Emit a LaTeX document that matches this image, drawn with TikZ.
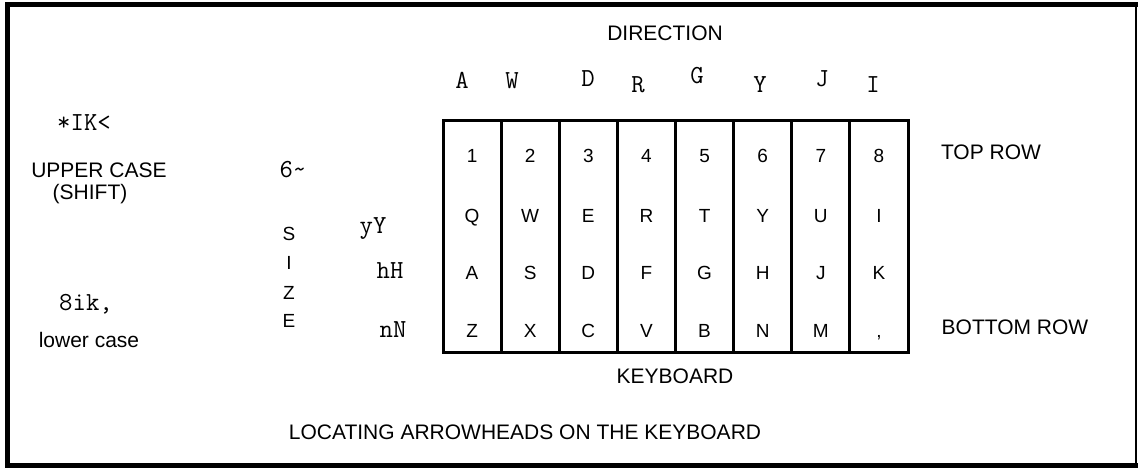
\documentclass[tikz,border=0pt]{standalone}
\usepackage{fontspec}
\setmainfont{Liberation Sans}
\begin{document}
\begin{tikzpicture}[x=1pt,y=-1pt,
  lbl/.style={anchor=base,inner sep=0pt,font=\fontsize{21}{24}\selectfont},
  keytxt/.style={anchor=base,inner sep=0pt,font=\fontsize{19}{22}\selectfont},
  mono/.style={anchor=base,inner sep=0pt,font=\fontsize{26}{28}\selectfont\ttfamily},
  colbox/.style={draw,line width=3pt,minimum width=58.125pt,minimum height=231pt,inner sep=0pt,outer sep=0pt},
  frameline/.style={line width=5pt,line cap=rect}]
\useasboundingbox (0,0) rectangle (1138,468);
% outer frame (right side thinner, as in the reference)
\coordinate (fTL) at (7.5,4.5);
\coordinate (fTR) at (1136,4.5);
\coordinate (fBR) at (1136,465.5);
\coordinate (fBL) at (7.5,465.5);
\draw[frameline] (fTR) -- (fTL) -- (fBL) -- (fBR);
\draw[line width=2.2pt] (fTR) -- (fBR);

% keyboard columns
\foreach \i/\a/\b/\c/\d in {1/1/Q/A/Z,2/2/W/S/X,3/3/E/D/C,4/4/R/F/V,5/5/T/G/B,6/6/Y/H/N,7/7/U/J/M,8/8/I/K/{,}}{
  \node[colbox] (col\i) at ({443+(\i-0.5)*58.125},236.5) {};
  \node[keytxt] (ka\i) at ({443+(\i-0.5)*58.125},163) {\a};
  \node[keytxt] (kb\i) at ({443+(\i-0.5)*58.125},222) {\b};
  \node[keytxt] (kc\i) at ({443+(\i-0.5)*58.125},279) {\c};
  \node[keytxt] (kd\i) at ({443+(\i-0.5)*58.125},337) {\d};
}

% direction letters
\node[mono] (dA) at (462,89) {A};
\node[mono] (dW) at (512,89) {W};
\node[mono] (dD) at (588,87) {D};
\node[mono] (dR) at (638,93) {R};
\node[mono] (dG) at (697,84) {G};
\node[mono] (dY) at (760,93) {Y};
\node[mono] (dJ) at (822,87) {J};
\node[mono] (dI) at (873,93) {I};

% labels
\node[lbl] (direction) at (665,40.5) {DIRECTION};
\node[lbl] (toprow) at (991,159.5) {TOP ROW};
\node[lbl] (bottomrow) at (1015,334.5) {BOTTOM ROW};
\node[lbl] (keyboard) at (675,383.5) {KEYBOARD};
\node[lbl] (title) at (525,439.5) {LOCATING ARROWHEADS ON THE KEYBOARD};

\node[mono] (upsym) at (84,131) {*IK<};
\node[lbl] (upper) at (99,177) {UPPER CASE};
\node[lbl] (shift) at (90,199) {(SHIFT)};
\node[mono] (lowsym) at (86,310) {8ik,};
\node[lbl] (lower) at (89,347) {lower case};

\node[mono] (six) at (293,178) {6\textasciitilde};
\node[keytxt] (sS) at (289,240) {S};
\node[keytxt] (sI) at (289,269) {I};
\node[keytxt] (sZ) at (289,299) {Z};
\node[keytxt] (sE) at (289,327) {E};

\node[mono] (yY) at (373,233) {yY};
\node[mono] (hH) at (390,278) {hH};
\node[mono] (nN) at (393,337) {nN};
\end{tikzpicture}
\end{document}
